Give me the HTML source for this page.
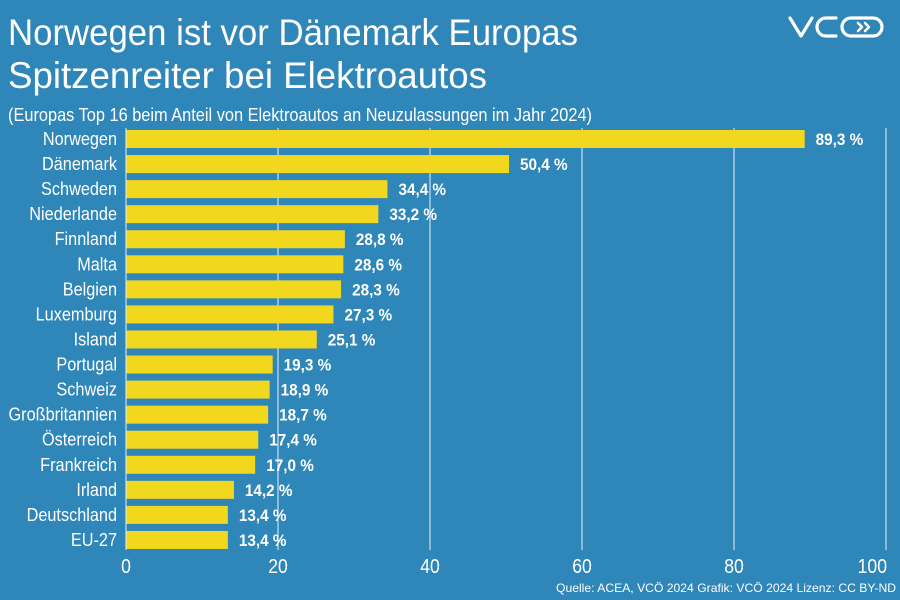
<!DOCTYPE html>
<html><head><meta charset="utf-8"><style>
html,body{margin:0;padding:0;background:#2f86b9;}
svg{display:block;font-family:"Liberation Sans Narrow","Liberation Sans",sans-serif;}
</style></head><body>
<svg id="chart" width="900" height="600" viewBox="0 0 900 600">
<rect width="900" height="600" fill="#2f86b9"/>
<text x="8" y="45" font-size="37" fill="#fff" textLength="570" lengthAdjust="spacingAndGlyphs">Norwegen ist vor Dänemark Europas</text>
<text x="8" y="88" font-size="37" fill="#fff" textLength="479" lengthAdjust="spacingAndGlyphs">Spitzenreiter bei Elektroautos</text>
<text x="8" y="121" font-size="18" fill="#fff" textLength="584" lengthAdjust="spacingAndGlyphs">(Europas Top 16 beim Anteil von Elektroautos an Neuzulassungen im Jahr 2024)</text>
<g fill="none" stroke="#fff" stroke-width="3.2" stroke-linecap="round" stroke-linejoin="round">
<polyline points="790,18 801,36 812,18"/>
<path d="M836,18 H826 a9,9 0 0 0 0,18 H836"/>
<rect x="842" y="18" width="40" height="18" rx="9"/>
<polyline points="858,23 862,27 858,31" stroke-width="2.5"/>
<polyline points="865,23 869,27 865,31" stroke-width="2.5"/>
</g>
<g id="grid"></g><g id="bars"></g><g id="labels"></g>
<text x="896" y="592" font-size="12" fill="#fff" text-anchor="end" textLength="340" lengthAdjust="spacingAndGlyphs">Quelle: ACEA, VCÖ 2024 Grafik: VCÖ 2024 Lizenz: CC BY-ND</text>
</svg>
<script>
const categories=["Norwegen","Dänemark","Schweden","Niederlande","Finnland","Malta","Belgien","Luxemburg","Island","Portugal","Schweiz","Großbritannien","Österreich","Frankreich","Irland","Deutschland","EU-27"];
const values=[89.3,50.4,34.4,33.2,28.8,28.6,28.3,27.3,25.1,19.3,18.9,18.7,17.4,17.0,14.2,13.4,13.4];
const ticks=[0,20,40,60,80,100];
const NS="http://www.w3.org/2000/svg";
const x=v=>126+v*7.6;
const yc=i=>139+i*25.06;
const grid=document.getElementById('grid'),bars=document.getElementById('bars'),labels=document.getElementById('labels');
function mk(tag,attrs,parent,txt){const e=document.createElementNS(NS,tag);for(const k in attrs)e.setAttribute(k,attrs[k]);if(txt!==undefined)e.textContent=txt;parent.appendChild(e);return e;}
ticks.forEach(t=>{
  if(t>0){const l=mk('line',{x1:x(t),x2:x(t),y1:128,y2:550,stroke:'#e6f0f7','stroke-width':1},grid);
  
  }
  const anchor=t===100?'end':'middle';
  const tx=mk('text',{x:0,y:0,transform:`translate(${t===100?887:x(t)},573) scale(0.88,1)`,'font-size':20,fill:'#fff','text-anchor':anchor},labels,String(t));
  
  
});
const ax=mk('line',{x1:x(0),x2:x(0),y1:128,y2:550,stroke:'#e6f0f7','stroke-width':1},grid);


categories.forEach((c,i)=>{
  const r=mk('rect',{x:x(0)+0.5,y:yc(i)-9,width:x(values[i])-x(0)-0.5,height:18,fill:'#f2d71f'},bars);
  
  
  const lt=mk('text',{x:0,y:0,transform:`translate(117,${yc(i)+6}) scale(0.88,1)`,'font-size':18.5,fill:'#fff','text-anchor':'end'},labels,c);
  
  
  const vt=mk('text',{x:0,y:0,transform:`translate(${x(values[i])+11},${yc(i)+6}) scale(0.9,1)`,'font-size':17,'font-weight':'bold',fill:'#fff'},labels,values[i].toFixed(1).replace('.',',')+' %');
  
  
});
</script>
</body></html>
